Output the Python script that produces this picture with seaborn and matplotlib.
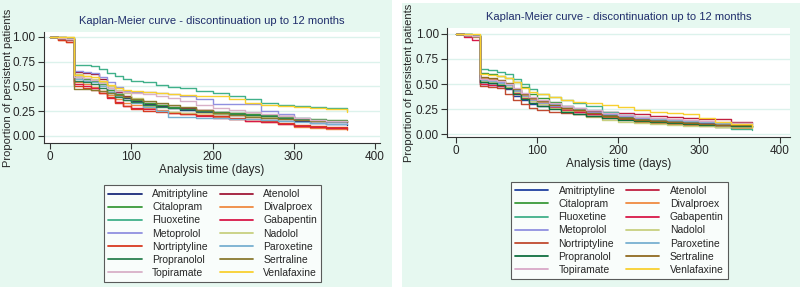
import pandas as pd
import matplotlib
matplotlib.use("Agg")
import matplotlib.pyplot as plt
from matplotlib.lines import Line2D
from matplotlib.patches import Rectangle
import seaborn as sns

# Kaplan-Meier estimates (survival at each day of the grid)
days = [0, 10, 20, 29, 30, 40, 50, 60, 70, 80, 90, 100, 115, 130, 145, 160,
        180, 200, 220, 240, 260, 280, 300, 320, 340, 365]

drugs = ["Amitriptyline", "Atenolol", "Citalopram", "Divalproex", "Fluoxetine",
         "Gabapentin", "Metoprolol", "Nadolol", "Nortriptyline", "Paroxetine",
         "Propranolol", "Sertraline", "Topiramate", "Venlafaxine"]

left_surv = {
    "Amitriptyline": [1.00, 0.99, 0.98, 0.97, 0.60, 0.58, 0.56, 0.52, 0.46, 0.42, 0.38, 0.35, 0.32, 0.30, 0.28, 0.26, 0.24, 0.22, 0.21, 0.20, 0.18, 0.17, 0.15, 0.13, 0.12, 0.11],
    "Atenolol":      [1.00, 1.00, 0.99, 0.98, 0.65, 0.64, 0.63, 0.58, 0.50, 0.44, 0.40, 0.36, 0.33, 0.31, 0.29, 0.28, 0.26, 0.24, 0.23, 0.22, 0.21, 0.20, 0.17, 0.15, 0.15, 0.14],
    "Citalopram":    [1.00, 0.99, 0.98, 0.97, 0.60, 0.58, 0.56, 0.52, 0.46, 0.42, 0.39, 0.36, 0.33, 0.31, 0.29, 0.27, 0.25, 0.24, 0.23, 0.22, 0.21, 0.19, 0.18, 0.17, 0.16, 0.16],
    "Divalproex":    [1.00, 0.97, 0.95, 0.93, 0.55, 0.52, 0.49, 0.45, 0.41, 0.37, 0.33, 0.31, 0.28, 0.26, 0.24, 0.23, 0.21, 0.19, 0.17, 0.15, 0.14, 0.12, 0.09, 0.08, 0.07, 0.06],
    "Fluoxetine":    [1.00, 1.00, 0.99, 0.98, 0.72, 0.72, 0.71, 0.68, 0.64, 0.61, 0.58, 0.56, 0.54, 0.51, 0.49, 0.48, 0.45, 0.43, 0.40, 0.37, 0.33, 0.31, 0.30, 0.29, 0.28, 0.26],
    "Gabapentin":    [1.00, 0.98, 0.97, 0.96, 0.52, 0.50, 0.48, 0.43, 0.38, 0.34, 0.30, 0.28, 0.27, 0.25, 0.23, 0.22, 0.20, 0.18, 0.17, 0.15, 0.14, 0.12, 0.10, 0.09, 0.08, 0.07],
    "Metoprolol":    [1.00, 0.99, 0.99, 0.98, 0.66, 0.65, 0.64, 0.60, 0.55, 0.49, 0.45, 0.44, 0.44, 0.43, 0.42, 0.40, 0.37, 0.32, 0.32, 0.32, 0.25, 0.22, 0.18, 0.16, 0.14, 0.13],
    "Nadolol":       [1.00, 1.00, 1.00, 1.00, 0.63, 0.61, 0.58, 0.55, 0.50, 0.46, 0.43, 0.38, 0.30, 0.25, 0.24, 0.23, 0.23, 0.22, 0.21, 0.20, 0.19, 0.18, 0.17, 0.16, 0.15, 0.15],
    "Nortriptyline": [1.00, 0.97, 0.95, 0.93, 0.50, 0.48, 0.46, 0.43, 0.39, 0.33, 0.30, 0.27, 0.25, 0.24, 0.23, 0.22, 0.21, 0.20, 0.18, 0.17, 0.15, 0.13, 0.11, 0.10, 0.09, 0.08],
    "Paroxetine":    [1.00, 0.99, 0.98, 0.97, 0.58, 0.56, 0.54, 0.50, 0.44, 0.40, 0.36, 0.33, 0.29, 0.25, 0.19, 0.19, 0.18, 0.18, 0.17, 0.17, 0.16, 0.15, 0.14, 0.13, 0.12, 0.12],
    "Propranolol":   [1.00, 0.99, 0.98, 0.97, 0.56, 0.54, 0.52, 0.48, 0.43, 0.39, 0.36, 0.34, 0.31, 0.29, 0.28, 0.27, 0.25, 0.23, 0.22, 0.21, 0.20, 0.18, 0.17, 0.16, 0.15, 0.15],
    "Sertraline":    [1.00, 0.99, 0.98, 0.97, 0.47, 0.47, 0.46, 0.45, 0.43, 0.41, 0.39, 0.37, 0.35, 0.33, 0.31, 0.29, 0.26, 0.23, 0.21, 0.19, 0.18, 0.17, 0.16, 0.15, 0.15, 0.14],
    "Topiramate":    [1.00, 0.99, 0.98, 0.97, 0.60, 0.59, 0.57, 0.53, 0.48, 0.45, 0.44, 0.43, 0.42, 0.40, 0.38, 0.35, 0.31, 0.28, 0.26, 0.24, 0.22, 0.20, 0.18, 0.16, 0.15, 0.15],
    "Venlafaxine":   [1.00, 1.00, 1.00, 1.00, 0.62, 0.61, 0.60, 0.56, 0.51, 0.48, 0.46, 0.45, 0.44, 0.43, 0.42, 0.41, 0.40, 0.40, 0.37, 0.33, 0.31, 0.30, 0.29, 0.28, 0.27, 0.24],
}

right_surv = {
    "Amitriptyline": [1.00, 0.99, 0.98, 0.97, 0.50, 0.49, 0.48, 0.45, 0.38, 0.34, 0.30, 0.28, 0.26, 0.24, 0.22, 0.20, 0.18, 0.16, 0.15, 0.14, 0.13, 0.12, 0.11, 0.11, 0.10, 0.10],
    "Atenolol":      [1.00, 0.99, 0.98, 0.97, 0.52, 0.51, 0.50, 0.47, 0.41, 0.37, 0.34, 0.31, 0.28, 0.26, 0.24, 0.23, 0.22, 0.21, 0.20, 0.18, 0.17, 0.16, 0.15, 0.15, 0.12, 0.11],
    "Citalopram":    [1.00, 1.00, 0.99, 0.98, 0.61, 0.60, 0.58, 0.56, 0.52, 0.47, 0.40, 0.36, 0.32, 0.28, 0.25, 0.22, 0.19, 0.17, 0.15, 0.14, 0.13, 0.12, 0.10, 0.09, 0.08, 0.07],
    "Divalproex":    [1.00, 0.99, 0.97, 0.96, 0.56, 0.55, 0.53, 0.50, 0.44, 0.39, 0.35, 0.32, 0.28, 0.25, 0.23, 0.20, 0.17, 0.14, 0.12, 0.11, 0.10, 0.09, 0.08, 0.07, 0.06, 0.06],
    "Fluoxetine":    [1.00, 1.00, 0.99, 0.98, 0.65, 0.64, 0.62, 0.60, 0.55, 0.50, 0.45, 0.40, 0.37, 0.34, 0.31, 0.28, 0.22, 0.19, 0.17, 0.15, 0.13, 0.11, 0.09, 0.07, 0.05, 0.04],
    "Gabapentin":    [1.00, 0.97, 0.94, 0.92, 0.50, 0.49, 0.48, 0.46, 0.40, 0.36, 0.33, 0.30, 0.27, 0.24, 0.22, 0.20, 0.18, 0.16, 0.14, 0.13, 0.12, 0.11, 0.10, 0.09, 0.08, 0.08],
    "Metoprolol":    [1.00, 0.99, 0.98, 0.97, 0.55, 0.54, 0.52, 0.50, 0.43, 0.38, 0.34, 0.31, 0.28, 0.26, 0.24, 0.22, 0.20, 0.18, 0.16, 0.15, 0.14, 0.13, 0.12, 0.11, 0.10, 0.10],
    "Nadolol":       [1.00, 0.99, 0.98, 0.97, 0.53, 0.52, 0.50, 0.47, 0.42, 0.37, 0.33, 0.30, 0.26, 0.23, 0.20, 0.17, 0.14, 0.12, 0.11, 0.10, 0.09, 0.08, 0.08, 0.07, 0.07, 0.06],
    "Nortriptyline": [1.00, 0.99, 0.98, 0.97, 0.48, 0.47, 0.46, 0.40, 0.34, 0.30, 0.26, 0.24, 0.22, 0.21, 0.20, 0.18, 0.16, 0.15, 0.14, 0.13, 0.12, 0.11, 0.10, 0.09, 0.08, 0.08],
    "Paroxetine":    [1.00, 1.00, 0.99, 0.98, 0.54, 0.53, 0.51, 0.49, 0.44, 0.40, 0.36, 0.33, 0.30, 0.28, 0.26, 0.24, 0.21, 0.19, 0.17, 0.15, 0.14, 0.13, 0.12, 0.11, 0.11, 0.10],
    "Propranolol":   [1.00, 0.99, 0.98, 0.97, 0.52, 0.51, 0.49, 0.46, 0.40, 0.35, 0.31, 0.28, 0.25, 0.22, 0.20, 0.18, 0.16, 0.14, 0.13, 0.12, 0.11, 0.10, 0.09, 0.09, 0.08, 0.07],
    "Sertraline":    [1.00, 0.99, 0.98, 0.97, 0.57, 0.56, 0.54, 0.51, 0.45, 0.40, 0.36, 0.33, 0.29, 0.26, 0.24, 0.21, 0.18, 0.16, 0.14, 0.13, 0.12, 0.11, 0.10, 0.09, 0.09, 0.08],
    "Topiramate":    [1.00, 0.99, 0.98, 0.97, 0.55, 0.54, 0.53, 0.50, 0.46, 0.41, 0.37, 0.34, 0.31, 0.28, 0.26, 0.24, 0.21, 0.19, 0.17, 0.16, 0.15, 0.14, 0.13, 0.12, 0.11, 0.11],
    "Venlafaxine":   [1.00, 1.00, 1.00, 1.00, 0.60, 0.59, 0.58, 0.56, 0.52, 0.46, 0.42, 0.40, 0.37, 0.34, 0.32, 0.31, 0.29, 0.27, 0.24, 0.22, 0.21, 0.20, 0.16, 0.12, 0.10, 0.07],
}

left_colors = ["#1a2a7a", "#a01838", "#3a9a3a", "#f08a40", "#40b08a", "#d81848", "#9090e0",
               "#c8d080", "#d83a20", "#78b0d0", "#2a8050", "#8a7a30", "#d8b0c8", "#f8d030"]
right_colors = ["#2040a0", "#c02040", "#3a9a3a", "#f08a40", "#40b08a", "#d81848", "#9090e0",
                "#c8d080", "#c04a30", "#78b0d0", "#107040", "#906a20", "#d8a8c8", "#f8d030"]

title = "Kaplan-Meier curve - discontinuation up to 12 months"
bg = "#e6f8f0"
grid_col = "#dcf2ec"


def to_long(surv):
    rows = []
    for d in drugs:
        for t, s in zip(days, surv[d]):
            rows.append((d, t, s))
    return pd.DataFrame(rows, columns=["drug", "days", "surv"])


sns.set_style("white")
plt.rcParams["font.family"] = ["Liberation Sans", "DejaVu Sans"]

fig = plt.figure(figsize=(8, 2.91), dpi=100)
fig.patch.set_facecolor("white")

# panel backgrounds (pixel boxes converted to figure fractions)
fig.patches.append(Rectangle((0, 4 / 291), 392 / 800, 287 / 291, transform=fig.transFigure,
                             facecolor=bg, edgecolor="none", zorder=-10))
fig.patches.append(Rectangle((402 / 800, 4 / 291), 398 / 800, 284 / 291, transform=fig.transFigure,
                             facecolor=bg, edgecolor="none", zorder=-10))

panels = [
    dict(surv=left_surv, colors=left_colors, rect=[0.055, 0.509, 0.42, 0.381],
         xlim=(-7.4, 406), ylim=(-0.07, 1.05), ylab_x=0.010, xlab_y=0.415,
         leg_x=0.266, leg_y=0.382),
    dict(surv=right_surv, colors=right_colors, rect=[0.559, 0.529, 0.428, 0.375],
         xlim=(-11, 412), ylim=(-0.03, 1.06), ylab_x=0.511, xlab_y=0.435,
         leg_x=0.774, leg_y=0.393),
]

for p in panels:
    ax = fig.add_axes(p["rect"])
    ax.set_facecolor("white")
    df = to_long(p["surv"])
    pal = dict(zip(drugs, p["colors"]))
    sns.lineplot(data=df, x="days", y="surv", hue="drug", palette=pal, estimator=None,
                 drawstyle="steps-post", linewidth=1.0, legend=False, ax=ax)
    ax.set_xlim(*p["xlim"])
    ax.set_ylim(*p["ylim"])
    ax.set_xticks([0, 100, 200, 300, 400])
    ax.set_yticks([0, 0.25, 0.5, 0.75, 1.0])
    ax.set_yticklabels(["0.00", "0.25", "0.50", "0.75", "1.00"])
    ax.grid(axis="y", color=grid_col, linewidth=1.0)
    ax.set_axisbelow(True)
    for side in ["top", "right"]:
        ax.spines[side].set_visible(False)
    for side in ["left", "bottom"]:
        ax.spines[side].set_color("#333333")
        ax.spines[side].set_linewidth(0.8)
    ax.tick_params(axis="both", direction="out", length=4, width=0.8, color="#333333",
                   labelsize=8.5, pad=2, left=True, bottom=True)
    ax.set_xlabel("")
    ax.set_ylabel("")
    ax.set_title(title, fontsize=8, color="#1f2d6b", pad=6)

    fig.text(p["ylab_x"], p["rect"][1] + p["rect"][3] / 2, "Proportion of persistent patients",
             rotation=90, ha="center", va="center", fontsize=8)
    fig.text(p["rect"][0] + p["rect"][2] / 2, p["xlab_y"], "Analysis time (days)",
             ha="center", va="center", fontsize=8.5)

    # legend rows follow the alphabetical order left to right, like the original
    order = list(range(0, 14, 2)) + list(range(1, 14, 2))
    handles = [Line2D([0], [0], color=p["colors"][i], lw=1.3) for i in order]
    labels = [drugs[i] for i in order]
    leg = fig.legend(handles, labels, ncol=2, loc="upper center",
                     bbox_to_anchor=(p["leg_x"], p["leg_y"]), fontsize=7.5,
                     frameon=True, fancybox=False, edgecolor="#333333",
                     handlelength=3.2, labelspacing=0.3, columnspacing=1.0,
                     handletextpad=1.0, borderpad=0.4)
    leg.get_frame().set_linewidth(0.8)
    leg.get_frame().set_facecolor("white")

fig.savefig("out.png", dpi=100, facecolor=fig.get_facecolor())
